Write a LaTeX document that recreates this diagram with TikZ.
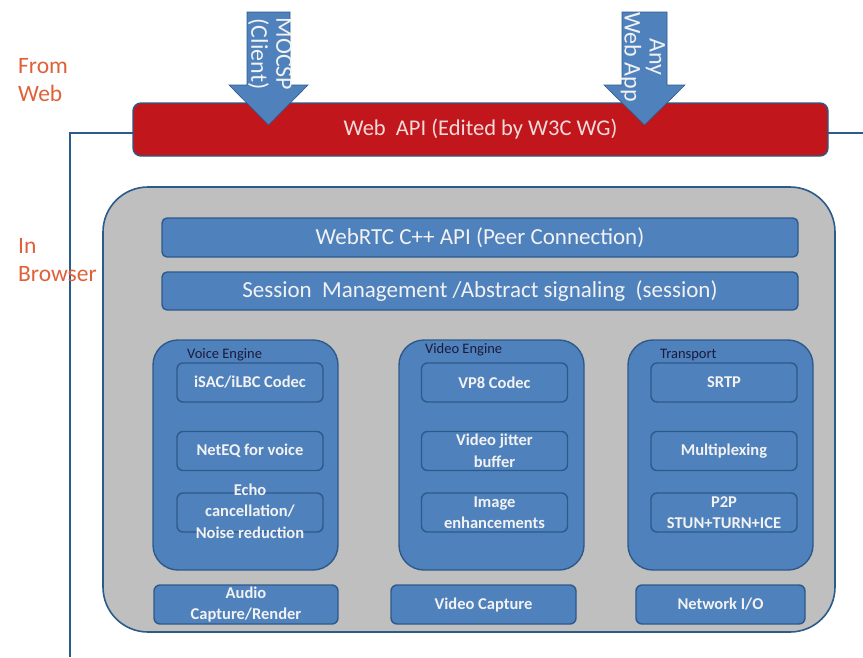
\documentclass[tikz,border=0pt]{standalone}
\usepackage{fontspec}
\setmainfont{Carlito}
\definecolor{boxblue}{HTML}{4F81BD}
\definecolor{bordc}{HTML}{2E5A8A}
\definecolor{grayfill}{HTML}{BFBFBF}
\definecolor{redbar}{HTML}{C0161C}
\definecolor{outl}{HTML}{2A5B8A}
\definecolor{txtw}{HTML}{F2F2F2}
\definecolor{lbl}{HTML}{1B1B3A}
\definecolor{orng}{HTML}{E0603A}
\tikzset{
  box/.style={draw=bordc, line width=1.4pt, fill=boxblue, rounded corners=6pt,
    text=txtw, align=center, inner sep=0pt,
    font=\fontsize{16.5}{21.5}\selectfont\bfseries},
  bar/.style={box, rounded corners=5pt, minimum width=636pt,
    font=\fontsize{23}{26}\selectfont},
  engine/.style={draw=bordc, line width=1.4pt, fill=boxblue, rounded corners=25pt,
    minimum width=185pt, minimum height=230pt, inner sep=0pt},
  inner/.style={box, minimum width=146pt, minimum height=39pt},
  bottom/.style={box, minimum height=39pt},
  englabel/.style={text=lbl, anchor=west, inner sep=0pt,
    font=\fontsize{14.5}{16}\selectfont},
  side/.style={text=orng, anchor=north west, align=left, inner sep=0pt,
    font=\fontsize{23.5}{28}\selectfont},
  arrowbody/.style={fill=boxblue, draw=bordc, line width=0.6pt},
  arrowtext/.style={text=txtw, rotate=-90, align=center, inner sep=0pt,
    font=\fontsize{24}{25}\selectfont},
}
\begin{document}
\begin{tikzpicture}[x=1pt, y=-1pt]
\useasboundingbox (0,0) rectangle (863,657);
% outer frame line
\coordinate (fr1) at (863,133);
\coordinate (fr2) at (70,133);
\coordinate (fr3) at (70,657);
\draw[outl, line width=1.6pt] (fr1) -- (fr2) -- (fr3);
% side labels
\node[side] (fromweb) at (18,58) {From\\Web};
\node[side] (inbrowser) at (18,238) {In\\Browser};
% red web api bar
\node[draw=outl, line width=1.4pt, fill=redbar, rounded corners=8pt,
  minimum width=695pt, minimum height=53pt, text=txtw!90!red,
  font=\fontsize{22.5}{24}\selectfont] (webapi) at (480.5,129.5) {Web\ \ API (Edited by W3C WG)};
% arrows
\fill[arrowbody] (247,12) -- (290,12) -- (290,85) -- (308,85) -- (268.5,125) -- (229,85) -- (247,85) -- cycle;
\node[arrowtext] (mocsp) at (270,54) {MOCSP\\(Client)};
\fill[arrowbody] (622,12) -- (667,12) -- (667,85) -- (685,85) -- (644.5,125) -- (604,85) -- (622,85) -- cycle;
\node[arrowtext] (anyapp) at (643,57) {Any\\Web App};
% gray browser area
\node[draw=outl, line width=1.6pt, fill=grayfill, rounded corners=45pt,
  minimum width=732pt, minimum height=445pt] (browser) at (469,409.5) {};
% bars
\node[bar, minimum height=39pt] (cppapi) at (480,237.5) {WebRTC C++ API (Peer Connection)};
\node[bar, minimum height=38pt] (session) at (480,291) {Session\ \ Management /Abstract signaling\ \ (session)};
% engines
\node[engine] (voice) at (245.5,455) {};
\node[engine] (video) at (491.5,455) {};
\node[engine] (transport) at (720.5,455) {};
\node[englabel] (voicelbl) at (187,355) {Voice Engine};
\node[englabel] (videolbl) at (425,350) {Video Engine};
\node[englabel] (translbl) at (660,355) {Transport};
% voice boxes
\node[inner] (isac) at (250,382.5) {iSAC/iLBC Codec};
\node[inner] (neteq) at (250,451) {NetEQ for voice};
\node[inner] (echo) at (250,512.5) {};
\node[text=txtw, align=center, inner sep=0pt, font=\fontsize{16.5}{21.5}\selectfont\bfseries] (echotxt) at (250,511) {Echo\\cancellation/\\Noise reduction};
% video boxes
\node[inner] (vp8) at (494.5,382.5) {VP8 Codec};
\node[inner] (jitter) at (494.5,451) {Video jitter\\buffer};
\node[inner] (image) at (494.5,512.5) {Image\\enhancements};
% transport boxes
\node[inner] (srtp) at (724,382.5) {SRTP};
\node[inner] (mux) at (724,451) {Multiplexing};
\node[inner] (p2p) at (724,512.5) {P2P\\STUN+TURN+ICE};
% bottom boxes
\node[bottom, minimum width=184pt] (audio) at (246,604.5) {Audio\\Capture/Render};
\node[bottom, minimum width=185pt] (vcap) at (483.5,604.5) {Video Capture};
\node[bottom, minimum width=169pt] (netio) at (720.5,604.5) {Network I/O};
\end{tikzpicture}
\end{document}
